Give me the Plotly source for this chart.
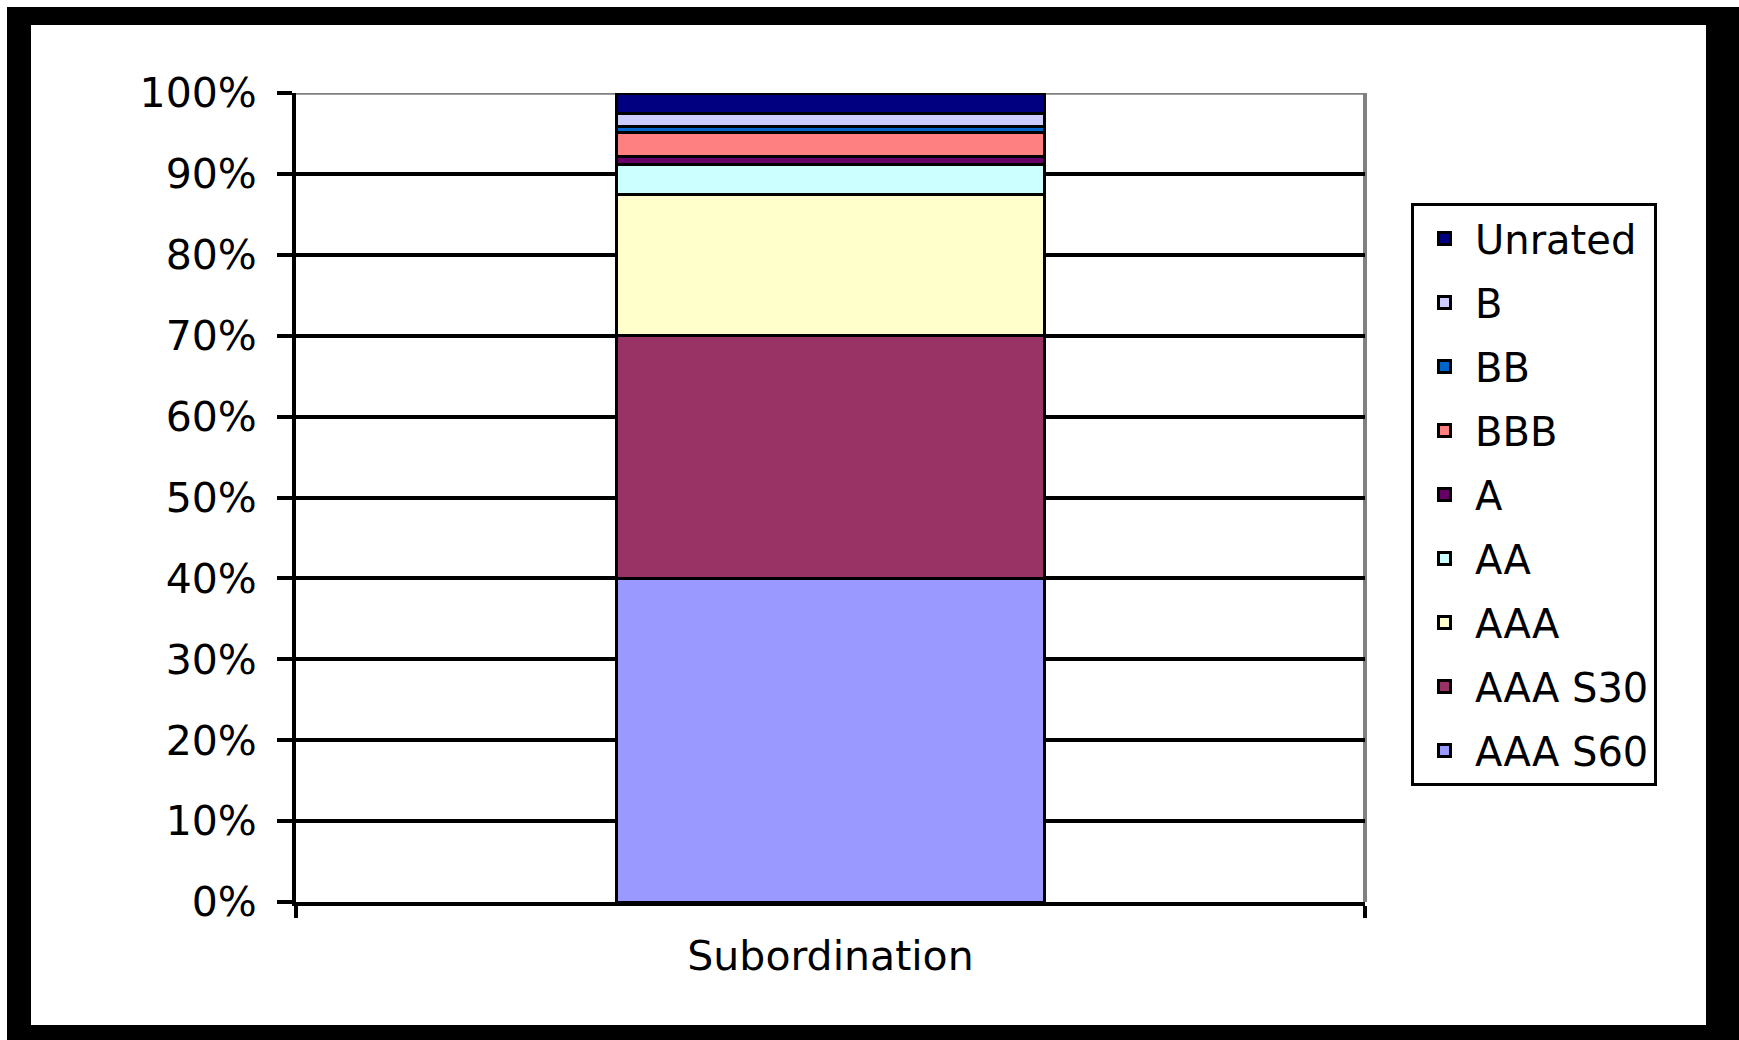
import plotly.graph_objects as go

# ---- data (percent of capital structure) ----
category = ["Subordination"]
series_names = ["AAA S60", "AAA S30", "AAA", "AA", "A", "BBB", "BB", "B", "Unrated"]
series_values = [40.0, 30.0, 17.4, 3.8, 0.9, 3.0, 0.8, 1.6, 2.5]
series_colors = ["#9999FF", "#993366", "#FFFFCC", "#CCFFFF", "#660066",
                 "#FF8080", "#0066CC", "#CCCCFF", "#000080"]
y_tick_vals = [0, 10, 20, 30, 40, 50, 60, 70, 80, 90, 100]
y_tick_text = ["0%", "10%", "20%", "30%", "40%", "50%", "60%", "70%", "80%", "90%", "100%"]

W, H = 1739, 1040
L, R, T, B = 296, 1365, 93, 902  # plot area in pixels
FONT = "DejaVu Sans"


def fx(px):
    return (px - L) / (R - L)


def fy(py):
    return (B - py) / (B - T)


fig = go.Figure()
n = len(series_names)
for i, (name, val, col) in enumerate(zip(series_names, series_values, series_colors)):
    fig.add_trace(go.Bar(
        x=category, y=[val], name=name, legendgroup=name, legendrank=n - i,
        marker=dict(color=col, line=dict(color="black", width=3)),
        hoverinfo="name+y",
    ))

shapes = []
# gray plot-area border (top and right), above gridlines, below bars
shapes.append(dict(type="line", xref="paper", yref="y", x0=0, x1=1, y0=100, y1=100,
                   line=dict(color="#808080", width=3.5), layer="between"))
shapes.append(dict(type="line", xref="paper", yref="y", x0=1, x1=1, y0=0, y1=100,
                   line=dict(color="#808080", width=4), layer="between"))
# black outer frame
for (x0, y0, x1, y1) in [(7, 7, 31, 1040), (7, 7, 1739, 25),
                         (1706, 7, 1739, 1040), (7, 1025, 1739, 1040)]:
    shapes.append(dict(type="rect", xref="paper", yref="paper",
                       x0=fx(x0), x1=fx(x1), y0=fy(y1), y1=fy(y0),
                       fillcolor="black", line=dict(width=0), layer="above"))

fig.update_layout(
    width=W, height=H, autosize=False,
    margin=dict(l=L, r=W - R, t=T, b=H - B, pad=0),
    paper_bgcolor="white", plot_bgcolor="white",
    barmode="stack", bargap=0.599,
    font=dict(family=FONT, size=40, color="black"),
    showlegend=True,
    legend=dict(
        x=fx(1411), y=fy(203), xanchor="left", yanchor="top",
        bgcolor="white", bordercolor="black", borderwidth=3,
        traceorder="grouped", tracegroupgap=9,
        font=dict(family=FONT, size=40, color="black"),
        itemwidth=51,
    ),
    xaxis=dict(
        showline=True, linecolor="black", linewidth=4,
        ticks="outside", tickson="boundaries", ticklen=12, tickwidth=4, tickcolor="black",
        showgrid=False, tickfont=dict(family=FONT, size=41, color="black"),
        ticklabelstandoff=15,
    ),
    yaxis=dict(
        range=[0, 100], tickmode="array", tickvals=y_tick_vals, ticktext=y_tick_text,
        showline=True, linecolor="black", linewidth=4,
        ticks="outside", ticklen=15, tickwidth=3.5, tickcolor="black",
        showgrid=True, gridcolor="black", gridwidth=3.5,
        zeroline=False, tickfont=dict(family=FONT, size=41, color="black"),
        ticklabelstandoff=12,
    ),
    shapes=shapes,
)

fig.write_html("out.html", config={"displayModeBar": False})
